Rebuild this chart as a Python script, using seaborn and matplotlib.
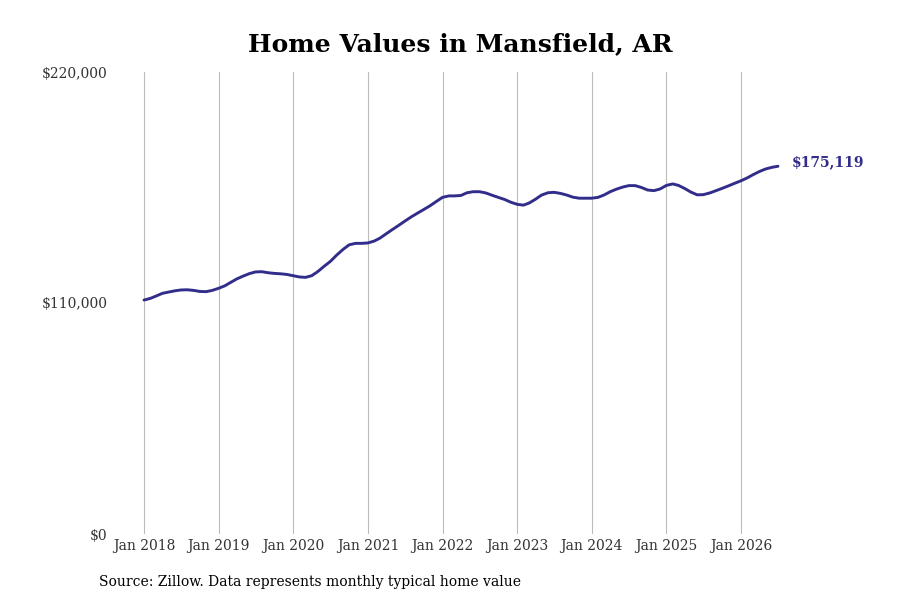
import pandas as pd
import matplotlib.pyplot as plt
import matplotlib.dates as mdates
import seaborn as sns

# monthly typical home value, Jan 2018 - Jul 2026 (thousands of dollars)
start_month = '2018-01-01'
values_k = [
    111.4, 112.2, 113.3, 114.6, 115.2, 115.8, 116.2, 116.3, 116.0, 115.5, 115.4, 116.0,
    117.0, 118.2, 119.8, 121.5, 122.8, 124.0, 124.8, 124.9, 124.4, 124.1, 123.9, 123.6,
    123.0, 122.4, 122.2, 123.0, 125.0, 127.5, 129.8, 132.8, 135.5, 137.7, 138.4, 138.4,
    138.6, 139.5, 140.9, 143.0, 145.0, 147.0, 149.0, 151.0, 152.8, 154.5, 156.3, 158.3,
    160.3, 161.0, 161.0, 161.2, 162.5, 163.0, 163.0, 162.4, 161.3, 160.3, 159.3, 158.0,
    157.0, 156.6, 157.6, 159.4, 161.4, 162.5, 162.7, 162.2, 161.4, 160.4, 159.9, 159.9,
    159.9, 160.3, 161.4, 163.0, 164.2, 165.2, 165.9, 165.9, 165.0, 163.8, 163.5, 164.3,
    166.0, 166.7, 166.0, 164.5, 162.8, 161.5, 161.6, 162.4, 163.5, 164.6, 165.8, 167.0,
    168.2, 169.6, 171.1, 172.6, 173.8, 174.6, 175.119,
]
ytick_values = [0, 110000, 220000]
ytick_labels = ['$0', '$110,000', '$220,000']
title = 'Home Values in Mansfield, AR'
source = 'Source: Zillow. Data represents monthly typical home value'
line_color = '#322d8a'

df = pd.DataFrame({
    'date': pd.date_range(start_month, periods=len(values_k), freq='MS'),
    'value': [v * 1000 for v in values_k],
})

sns.set_style('white')
plt.rcParams['font.family'] = ['DejaVu Serif']

fig = plt.figure(figsize=(9, 6), dpi=100)
ax = fig.add_axes([0.125, 0.11, 0.775, 0.77])

sns.lineplot(data=df, x='date', y='value', color=line_color, linewidth=2.1, ax=ax)

# x scale: Jan 2018 at px 144, Jan 2026 at px 741, axes spans 112.5..810
d0 = mdates.date2num(pd.Timestamp('2018-01-01'))
d1 = mdates.date2num(pd.Timestamp('2026-01-01'))
per_px = (d1 - d0) / (741 - 144)
ax.set_xlim(d0 - (144 - 112.5) * per_px, d0 + (810 - 144) * per_px)
ax.set_ylim(0, 220000)

ax.xaxis.set_major_locator(mdates.YearLocator())
ax.xaxis.set_major_formatter(mdates.DateFormatter('Jan %Y'))
ax.set_yticks(ytick_values)
ax.set_yticklabels(ytick_labels)
ax.tick_params(axis='x', length=0, labelsize=10, labelcolor='#333333', pad=3.6)
ax.tick_params(axis='y', left=False, length=0, labelsize=10, labelcolor='#333333', pad=3.5)
ax.grid(axis='x', color='#bbbbbb', linewidth=0.8)
ax.grid(axis='y', visible=False)
for s in ax.spines.values():
    s.set_visible(False)
ax.set_xlabel('')
ax.set_ylabel('')

last = df.iloc[-1]
ax.annotate(f"${last['value']:,.0f}", xy=(last['date'], last['value']),
            xytext=(10, 3), textcoords='offset points', ha='left', va='center',
            fontsize=10, fontweight='bold', color=line_color)

fig.text(0.512, 0.926, title, ha='center', va='center', fontsize=18,
         fontweight='bold', color='black')
fig.text(0.11, 0.03, source, ha='left', va='center', fontsize=10, color='black')

fig.savefig('out.png', dpi=100)
